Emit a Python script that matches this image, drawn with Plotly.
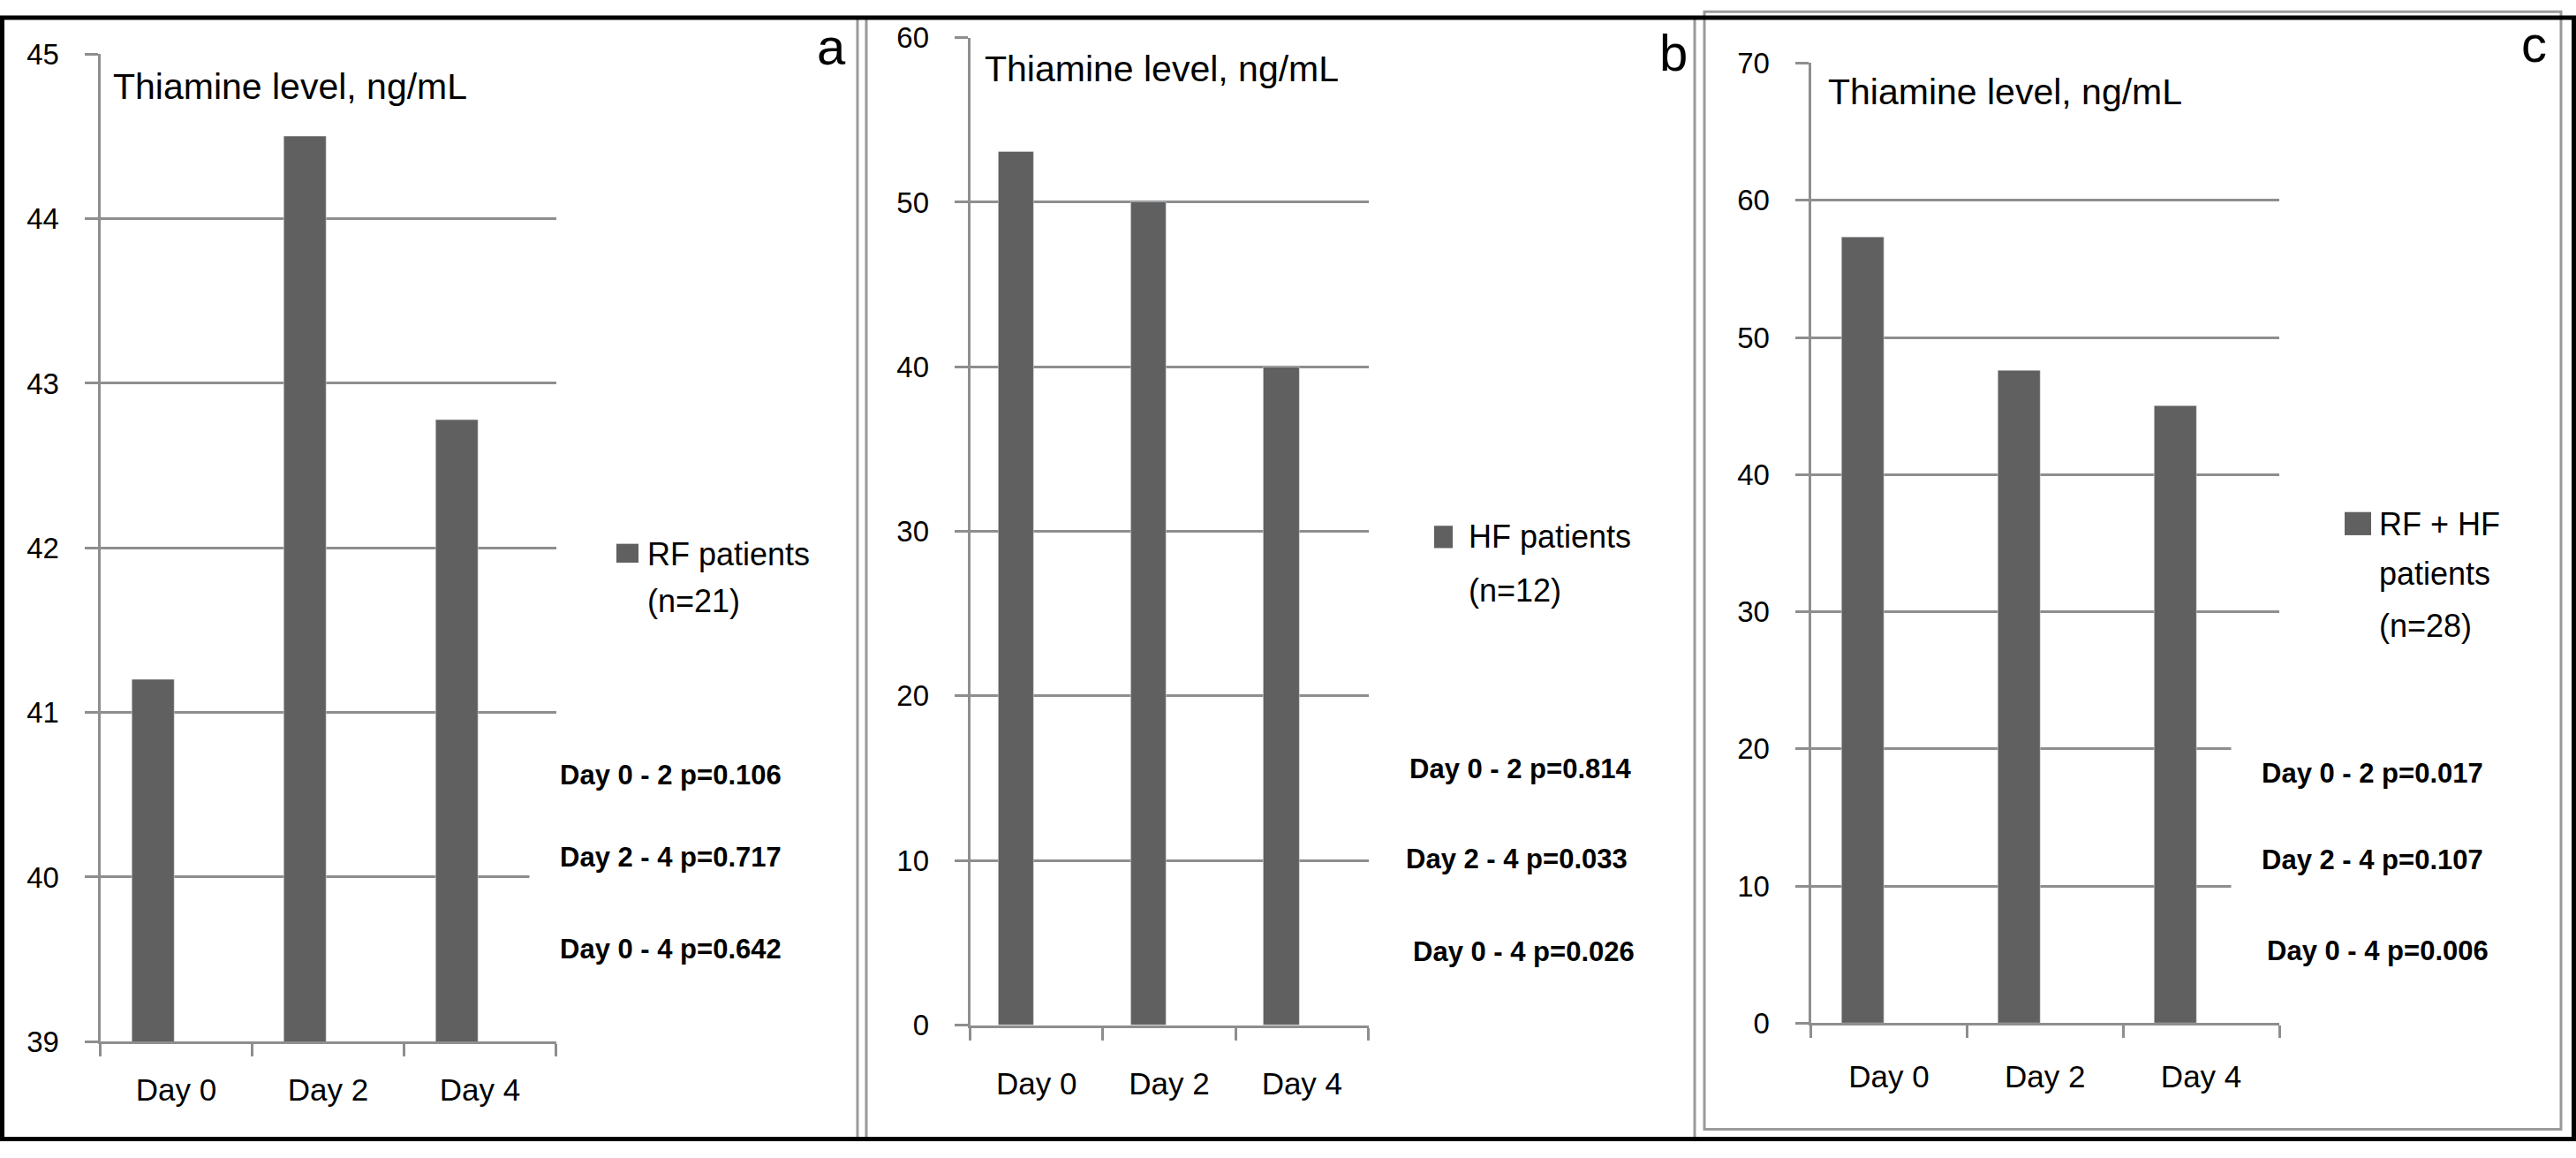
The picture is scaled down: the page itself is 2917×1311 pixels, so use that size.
import plotly.graph_objects as go

# ---------------- data ----------------
days = ["Day 0", "Day 2", "Day 4"]
rf_values = [41.2, 44.5, 42.78]
hf_values = [53.1, 50.0, 40.0]
rfhf_values = [57.3, 47.6, 45.0]

panel_letters = ["a", "b", "c"]
y_title = "Thiamine level, ng/mL"
legend_a = ["RF patients", "(n=21)"]
legend_b = ["HF patients", "(n=12)"]
legend_c = ["RF + HF", "patients", "(n=28)"]
pvals_a = ["Day 0 - 2 p=0.106", "Day 2 - 4 p=0.717", "Day 0 - 4 p=0.642"]
pvals_b = ["Day 0 - 2 p=0.814", "Day 2 - 4 p=0.033", "Day 0 - 4 p=0.026"]
pvals_c = ["Day 0 - 2 p=0.017", "Day 2 - 4 p=0.107", "Day 0 - 4 p=0.006"]
yrange_a = [39, 45]
yrange_b = [0, 60]
yrange_c = [0, 70]

# ---------------- layout helpers ----------------
W, H = 2917, 1311
def fx(x):
    return x / W
def fy(y):
    return 1 - y / H

BAR = "#606060"
GRID = "#8e8e8e"
FONT = "Liberation Sans"

fig = go.Figure()
fig.add_trace(go.Bar(x=days, y=rf_values, xaxis="x", yaxis="y", marker_color=BAR,
                     width=0.28, offset=-0.29, showlegend=False))
fig.add_trace(go.Bar(x=days, y=hf_values, xaxis="x2", yaxis="y2", marker_color=BAR,
                     width=0.27, offset=-0.29, showlegend=False))
fig.add_trace(go.Bar(x=days, y=rfhf_values, xaxis="x3", yaxis="y3", marker_color=BAR,
                     width=0.27, offset=-0.30, showlegend=False))

def xax(dom, anchor, standoff):
    return dict(domain=[fx(dom[0]), fx(dom[1])], anchor=anchor, type="category",
                range=[-0.5, 2.5], tickson="boundaries", ticks="outside", ticklen=14,
                tickwidth=3, tickcolor=GRID, showline=True, linecolor=GRID, linewidth=3,
                showgrid=False, ticklabelstandoff=standoff,
                tickfont=dict(family=FONT, size=35, color="black"), fixedrange=True)

def yax(dom, anchor, rng, dtick):
    return dict(domain=[fy(dom[1]), fy(dom[0])], anchor=anchor, range=rng, dtick=dtick,
                showgrid=True, gridcolor=GRID, gridwidth=3, showline=True, linecolor=GRID,
                linewidth=3, ticks="outside", ticklen=15, tickwidth=3, tickcolor=GRID,
                zeroline=False, ticklabelstandoff=22,
                tickfont=dict(family=FONT, size=33, color="black"), fixedrange=True)

fig.update_layout(
    width=W, height=H, autosize=False,
    margin=dict(l=0, r=0, t=0, b=0),
    paper_bgcolor="white", plot_bgcolor="white",
    bargap=0,
    xaxis=xax((113.5, 629.5), "y", 22),
    yaxis=yax((44.6, 1195), "x", yrange_a, 1),
    xaxis2=xax((1098.6, 1549.5), "y2", 33),
    yaxis2=yax((25.4, 1175.7), "x2", yrange_b, 10),
    xaxis3=xax((2050.5, 2581), "y3", 28),
    yaxis3=yax((55, 1173.6), "x3", yrange_c, 10),
)

ann = []
def text(x, y, s, size, xanchor="left", bold=False, bg=None, pad=1):
    d = dict(x=fx(x), y=fy(y), xref="paper", yref="paper", text=(f"<b>{s}</b>" if bold else s),
             showarrow=False, xanchor=xanchor, yanchor="middle",
             font=dict(family=FONT, size=size, color="black"), borderpad=pad)
    if bg:
        d["bgcolor"] = bg
    ann.append(d)

# titles
for x, y in [(127.5, 82), (1114.5, 62), (2070, 88)]:
    text(x - 2, y, y_title, 41)

# panel letters
for (x, y), s in zip([(960, 36), (1913, 43), (2886, 32)], panel_letters):
    text(x, y, s, 58, xanchor="right")

# legends (text + swatch)
for x, ys, lines in [(733, [627, 682], legend_a), (1663, [607, 669], legend_b),
                     (2694, [592, 650, 711], legend_c)]:
    for y, s in zip(ys, lines):
        text(x - 2, y, s, 36)

shapes = []
for x0, x1, y0, y1 in [(698, 723, 615, 637), (1624, 1645, 594, 620), (2655, 2685, 578, 605)]:
    shapes.append(dict(type="rect", xref="paper", yref="paper", x0=fx(x0), x1=fx(x1),
                       y0=fy(y1), y1=fy(y0), fillcolor=BAR, line=dict(width=0)))

# p-values
PAD = 34
for xs, ys, labels in [([634.5, 634.5, 634.5], [884, 980, 1087], pvals_a),
                       ([1597, 1593, 1600.5], [877, 982, 1090], pvals_b),
                       ([2561.5, 2561.5, 2568], [882, 983, 1089], pvals_c)]:
    for x, y, s in zip(xs, ys, labels):
        text(x - PAD - 2, y, s, 31, bold=True, bg="white", pad=PAD)

# panel frames
for x in [971, 981, 1919]:
    shapes.append(dict(type="line", xref="paper", yref="paper", x0=fx(x), x1=fx(x),
                       y0=0, y1=1, line=dict(color="#9a9a9a", width=3)))
shapes.append(dict(type="rect", xref="paper", yref="paper", x0=fx(1930), x1=fx(2900),
                   y0=fy(1297), y1=fy(-5), line=dict(color="#9a9a9a", width=3)))
shapes.append(dict(type="rect", xref="paper", yref="paper", x0=fx(2.5), x1=fx(2914.5),
                   y0=fy(1308.5), y1=fy(2), line=dict(color="black", width=5)))

fig.update_layout(annotations=ann, shapes=shapes)
fig.write_html("out.html", config={"displayModeBar": False},
               post_script="document.body.style.margin='0px';document.body.style.overflow='hidden';")
